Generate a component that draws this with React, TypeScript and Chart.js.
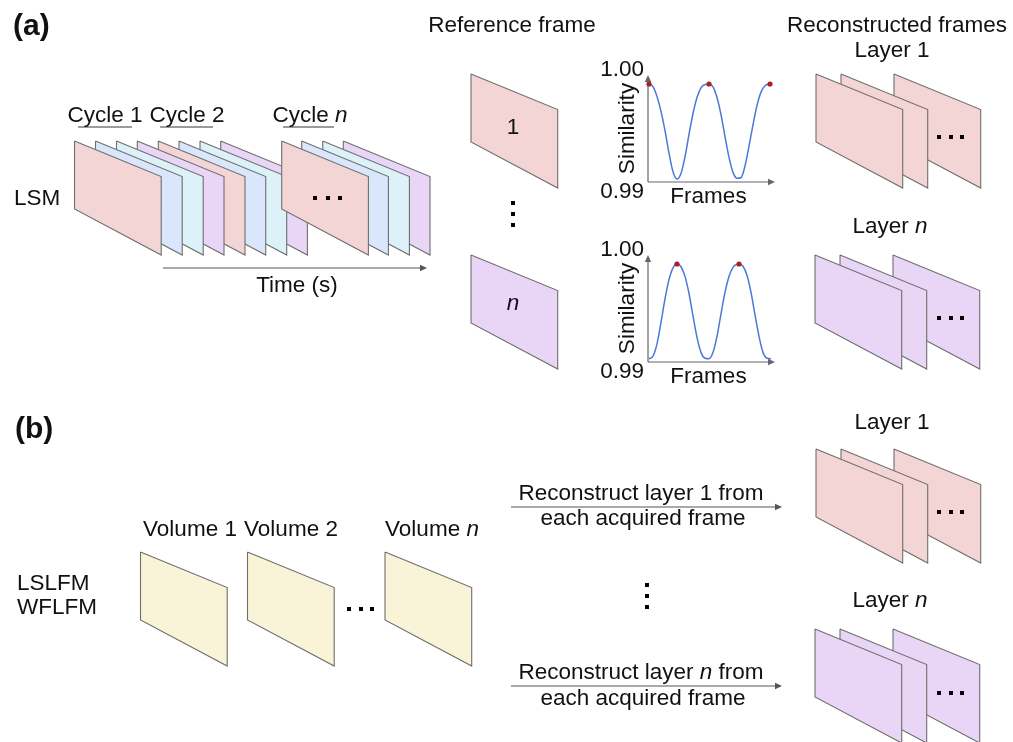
import React, { useEffect, useRef } from "react";
import { Chart, registerables } from "chart.js";

Chart.register(...registerables);

// ---------- data: similarity curves (frame index, similarity) ----------
const layer1Frames = [
  0.5, 2.5, 4.5, 6.5, 8.5, 10.5, 12.5, 14.5, 16.5, 18.5, 20.5, 22.5, 24.5, 26.5, 28.5, 30.5,
  32.5, 34.5, 36.5, 38.5, 40.5, 42.5, 44.5, 46.5, 48.5, 50.5, 52.5, 54.5, 56.5, 58.5, 61,
];
const layer1Similarity = [
  0.99916, 0.99892, 0.99800, 0.99660, 0.99480, 0.99270, 0.99095, 0.99028, 0.99080, 0.99235,
  0.99445, 0.99640, 0.99790, 0.99880, 0.99912, 0.99916, 0.99890, 0.99790, 0.99630, 0.99425,
  0.99230, 0.99090, 0.99035, 0.99040, 0.99150, 0.99335, 0.99535, 0.99715, 0.99840, 0.99900,
  0.99916,
];
const layer1PeakFrames = [0.5, 30.5, 61];
const layer1PeakSimilarity = [0.99916, 0.99916, 0.99916];

const layerNFrames = [
  0.5, 2.5, 4.5, 6.5, 8.5, 10.5, 12.5, 14.5, 16.5, 18.5, 20.5, 22.5, 24.5, 26.5, 28.5, 30.5,
  32.5, 34.5, 36.5, 38.5, 40.5, 42.5, 44.5, 45.5, 47.5, 49.5, 51.5, 53.5, 55.5, 57.5, 59.5, 61.5,
];
const layerNSimilarity = [
  0.99030, 0.99055, 0.99170, 0.99370, 0.99590, 0.99770, 0.99880, 0.99916, 0.99890, 0.99800,
  0.99640, 0.99430, 0.99230, 0.99090, 0.99035, 0.99030, 0.99090, 0.99240, 0.99450, 0.99650,
  0.99800, 0.99885, 0.99914, 0.99916, 0.99895, 0.99810, 0.99650, 0.99440, 0.99240, 0.99090,
  0.99035, 0.99030,
];
const layerNPeakFrames = [14.5, 45.5];
const layerNPeakSimilarity = [0.99916, 0.99916];

const similarityTickValues = [0.99, 1.0];
const similarityTickLabels = ["0.99", "1.00"];

// ---------- layout / styles ----------
const W = 1013;
const H = 742;
const FONT = '"Liberation Sans", Arial, sans-serif';
const FS = 22.5;
const TEXT = "#111111";

const FW = 86.7; // frame width
const TD = 35.5; // top-right drop
const RB = 114; // bottom-right drop
const LH = 68; // left edge height

const P = "#f4d5d6";
const B = "#d9e6fb";
const C = "#dcf1f8";
const L = "#e9d6f7";
const Y = "#f9f3d8";

// front-most first
const frames = [
  { x: 281.7, y: 141, c: P }, { x: 301.7, y: 141, c: B }, { x: 322.7, y: 141, c: C }, { x: 343.3, y: 141, c: L },
  { x: 74.5, y: 141, c: P }, { x: 95.5, y: 141, c: B }, { x: 116.5, y: 141, c: C }, { x: 137.3, y: 141, c: L },
  { x: 158.3, y: 141, c: P }, { x: 179, y: 141, c: B }, { x: 200, y: 141, c: C }, { x: 220.7, y: 141, c: L },
  { x: 471, y: 74, c: P }, { x: 471, y: 255, c: L },
  { x: 816, y: 74, c: P }, { x: 841, y: 74, c: P }, { x: 894, y: 74, c: P },
  { x: 815, y: 255, c: L }, { x: 840, y: 255, c: L }, { x: 893, y: 255, c: L },
  { x: 140.5, y: 552, c: Y }, { x: 247.5, y: 552, c: Y }, { x: 385, y: 552, c: Y },
  { x: 816, y: 449, c: P }, { x: 841, y: 449, c: P }, { x: 894, y: 449, c: P },
  { x: 815, y: 629, c: L }, { x: 840, y: 629, c: L }, { x: 893, y: 629, c: L },
];

type Run = [string, boolean];
type Label = { runs: Run[]; x: number; y: number; align: "left" | "center"; size?: number; bold?: boolean };

const labels: Label[] = [
  { runs: [["(a)", false]], x: 13, y: 35, align: "left", size: 30, bold: true },
  { runs: [["Reference frame", false]], x: 512, y: 32, align: "center" },
  { runs: [["Reconstructed frames", false]], x: 897, y: 32, align: "center" },
  { runs: [["Layer 1", false]], x: 892, y: 57, align: "center" },
  { runs: [["Cycle 1", false]], x: 105, y: 122, align: "center" },
  { runs: [["Cycle 2", false]], x: 187, y: 122, align: "center" },
  { runs: [["Cycle ", false], ["n", true]], x: 310, y: 122, align: "center" },
  { runs: [["LSM", false]], x: 14, y: 205, align: "left" },
  { runs: [["Time (s)", false]], x: 297, y: 292, align: "center" },
  { runs: [["1", false]], x: 513, y: 134, align: "center" },
  { runs: [["n", true]], x: 513, y: 310, align: "center" },
  { runs: [["Layer ", false], ["n", true]], x: 890, y: 233, align: "center" },
  { runs: [["(b)", false]], x: 15, y: 438, align: "left", size: 30, bold: true },
  { runs: [["Volume 1", false]], x: 190, y: 536, align: "center" },
  { runs: [["Volume 2", false]], x: 291, y: 536, align: "center" },
  { runs: [["Volume ", false], ["n", true]], x: 432, y: 536, align: "center" },
  { runs: [["LSLFM", false]], x: 17, y: 590, align: "left" },
  { runs: [["WFLFM", false]], x: 17, y: 614, align: "left" },
  { runs: [["Reconstruct layer 1 from", false]], x: 641, y: 500, align: "center" },
  { runs: [["each acquired frame", false]], x: 643, y: 525, align: "center" },
  { runs: [["Reconstruct layer ", false], ["n", true], [" from", false]], x: 641, y: 679, align: "center" },
  { runs: [["each acquired frame", false]], x: 643, y: 705, align: "center" },
  { runs: [["Layer 1", false]], x: 892, y: 429, align: "center" },
  { runs: [["Layer ", false], ["n", true]], x: 890, y: 607, align: "center" },
];

const dots = [
  [315, 198], [328, 198], [340, 198],
  [939, 137], [951, 137], [962, 137],
  [939, 318], [951, 318], [962, 318],
  [349, 609], [361, 609], [372, 609],
  [939, 512], [951, 512], [962, 512],
  [939, 693], [951, 693], [962, 693],
  [513, 203], [513, 214], [513, 225],
  [647, 585], [647, 596], [647, 607],
];

const arrows = [
  [163, 268, 427, 268],
  [511, 507, 782, 507],
  [511, 686, 782, 686],
];
const underlines = [
  [78, 132, 127],
  [160, 213, 127],
  [283, 334, 127],
];

function font(size: number, bold?: boolean, italic?: boolean) {
  return `${italic ? "italic " : ""}${bold ? "bold " : ""}${size}px ${FONT}`;
}

function drawRuns(ctx: CanvasRenderingContext2D, lb: Label, px: (v: number) => number, py: (v: number) => number) {
  const size = lb.size ?? FS;
  let total = 0;
  const widths = lb.runs.map(([t, it]) => {
    ctx.font = font(size, lb.bold, it);
    const w = ctx.measureText(t).width;
    total += w;
    return w;
  });
  let x = lb.align === "center" ? px(lb.x) - total / 2 : px(lb.x);
  ctx.textBaseline = "alphabetic";
  ctx.textAlign = "left";
  ctx.fillStyle = TEXT;
  lb.runs.forEach(([t, it], i) => {
    ctx.font = font(size, lb.bold, it);
    ctx.fillText(t, x, py(lb.y));
    x += widths[i];
  });
}

function arrow(ctx: CanvasRenderingContext2D, x1: number, y1: number, x2: number, y2: number, color: string) {
  const a = Math.atan2(y2 - y1, x2 - x1);
  const hl = 7;
  const hw = 3.2;
  ctx.strokeStyle = color;
  ctx.fillStyle = color;
  ctx.lineWidth = 1.2;
  ctx.beginPath();
  ctx.moveTo(x1, y1);
  ctx.lineTo(x2 - Math.cos(a) * hl * 0.8, y2 - Math.sin(a) * hl * 0.8);
  ctx.stroke();
  ctx.beginPath();
  ctx.moveTo(x2, y2);
  ctx.lineTo(x2 - Math.cos(a) * hl - Math.sin(a) * hw, y2 - Math.sin(a) * hl + Math.cos(a) * hw);
  ctx.lineTo(x2 - Math.cos(a) * hl + Math.sin(a) * hw, y2 - Math.sin(a) * hl - Math.cos(a) * hw);
  ctx.closePath();
  ctx.fill();
}

const diagramPlugin = {
  id: "diagram",
  afterDatasetsDraw(chart: any) {
    const ctx: CanvasRenderingContext2D = chart.ctx;
    const px = (v: number) => chart.scales.x.getPixelForValue(v);
    const py = (v: number) => chart.scales.y.getPixelForValue(v);
    ctx.save();
    ctx.strokeStyle = "#7a7a7a";
    ctx.lineWidth = 1.5;
    underlines.forEach(([a, b, y]) => {
      ctx.beginPath();
      ctx.moveTo(px(a), py(y));
      ctx.lineTo(px(b), py(y));
      ctx.stroke();
    });
    arrows.forEach(([a, b, c, d]) => arrow(ctx, px(a), py(b), px(c), py(d), "#555555"));
    ctx.fillStyle = "#000";
    dots.forEach(([x, y]) => ctx.fillRect(px(x) - 2, py(y) - 2, 4, 4));
    labels.forEach((lb) => drawRuns(ctx, lb, px, py));
    ctx.restore();
  },
};

const simPlugin = {
  id: "simAxes",
  beforeDatasetsDraw(chart: any) {
    const ctx: CanvasRenderingContext2D = chart.ctx;
    const { left, right, top, bottom } = chart.chartArea;
    ctx.save();
    arrow(ctx, left, bottom, left, top, "#666666");
    arrow(ctx, left, bottom, right, bottom, "#666666");
    ctx.restore();
  },
  afterDraw(chart: any) {
    const ctx: CanvasRenderingContext2D = chart.ctx;
    const { left, right, top, bottom } = chart.chartArea;
    const ys = chart.scales.y;
    ctx.save();
    ctx.fillStyle = TEXT;
    ctx.font = font(FS);
    ctx.textAlign = "right";
    ctx.textBaseline = "alphabetic";
    similarityTickValues.forEach((v, i) => {
      const yp = ys.getPixelForValue(v);
      const off = v === 0.99 ? 16 : 1;
      ctx.fillText(similarityTickLabels[i], left - 4, yp + off);
    });
    ctx.textAlign = "center";
    ctx.fillText("Frames", (left + right) / 2 - 3, bottom + 21);
    ctx.translate(left - 14, (top + bottom) / 2);
    ctx.rotate(-Math.PI / 2);
    ctx.fillText("Similarity", 0, 0);
    ctx.restore();
  },
};

function makeSim(canvas: HTMLCanvasElement, fr: number[], sim: number[], pf: number[], ps: number[]) {
  return new Chart(canvas, {
    type: "scatter",
    data: {
      datasets: [
        {
          data: pf.map((x, i) => ({ x, y: ps[i] })),
          pointRadius: 2.6,
          pointBackgroundColor: "#a82222",
          pointBorderWidth: 0,
          showLine: false,
          clip: false,
        } as any,
        {
          data: fr.map((x, i) => ({ x, y: sim[i] })),
          showLine: true,
          borderColor: "#4c78d8",
          borderWidth: 1.5,
          pointRadius: 0,
          cubicInterpolationMode: "monotone",
          clip: false,
        } as any,
      ],
    },
    options: {
      animation: false,
      responsive: false,
      maintainAspectRatio: false,
      events: [],
      layout: { padding: { left: 53, right: 10, top: 20, bottom: 33 } },
      plugins: { legend: { display: false }, tooltip: { enabled: false } },
      scales: {
        x: { type: "linear", display: false, min: 0, max: 63.5 },
        y: { type: "linear", display: false, min: 0.99, max: 1.0 },
      },
    },
    plugins: [simPlugin],
  });
}

export default function App() {
  const mainRef = useRef<HTMLCanvasElement>(null);
  const s1Ref = useRef<HTMLCanvasElement>(null);
  const s2Ref = useRef<HTMLCanvasElement>(null);

  useEffect(() => {
    const datasets = frames.map((f) => ({
      data: [
        { x: f.x, y: f.y },
        { x: f.x + FW, y: f.y + TD },
        { x: f.x + FW, y: f.y + RB },
        { x: f.x, y: f.y + LH },
        { x: f.x, y: f.y },
      ],
      showLine: true,
      fill: "shape",
      backgroundColor: f.c,
      borderColor: "#6e6e6e",
      borderWidth: 1.1,
      borderJoinStyle: "miter",
      pointRadius: 0,
      tension: 0,
    }));
    const main = new Chart(mainRef.current!, {
      type: "scatter",
      data: { datasets: datasets as any },
      options: {
        animation: false,
        responsive: false,
        maintainAspectRatio: false,
        events: [],
        layout: { padding: 0 },
        plugins: { legend: { display: false }, tooltip: { enabled: false } },
        scales: {
          x: { type: "linear", display: false, min: 0, max: W },
          y: { type: "linear", display: false, min: 0, max: H, reverse: true },
        },
      },
      plugins: [diagramPlugin],
    });
    const c1 = makeSim(s1Ref.current!, layer1Frames, layer1Similarity, layer1PeakFrames, layer1PeakSimilarity);
    const c2 = makeSim(s2Ref.current!, layerNFrames, layerNSimilarity, layerNPeakFrames, layerNPeakSimilarity);
    return () => {
      main.destroy();
      c1.destroy();
      c2.destroy();
    };
  }, []);

  return (
    <div style={{ position: "absolute", left: 0, top: 0, width: W, height: H, background: "#fff" }}>
      <canvas ref={mainRef} width={W} height={H} style={{ position: "absolute", left: 0, top: 0 }} />
      <canvas ref={s1Ref} width={190} height={160} style={{ position: "absolute", left: 595, top: 55 }} />
      <canvas ref={s2Ref} width={190} height={160} style={{ position: "absolute", left: 595, top: 235 }} />
    </div>
  );
}
